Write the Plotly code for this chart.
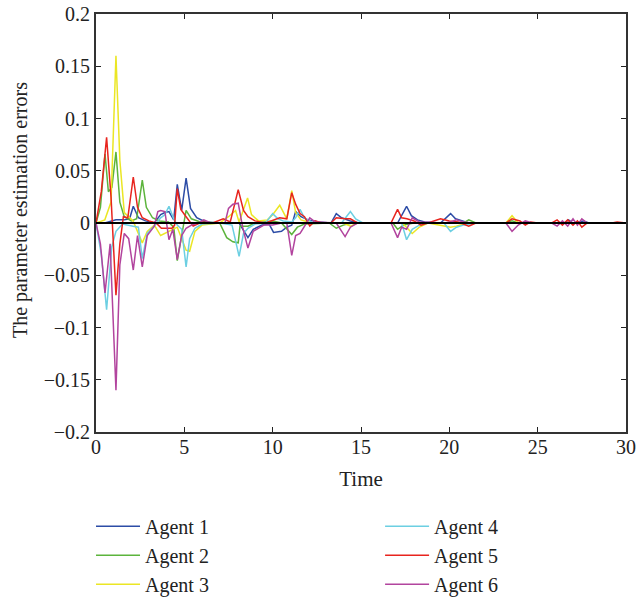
import plotly.graph_objects as go

# ---------------- data ----------------
agent_names = ["Agent 1", "Agent 2", "Agent 3", "Agent 4", "Agent 5", "Agent 6"]

t1 = [0, 0.5, 1.13, 1.6, 1.9, 2.11, 2.4, 2.8, 3.3, 3.66, 3.9, 4.13, 4.4, 4.6, 4.85, 5.1, 5.35, 5.7, 6.2, 7.0,
      8.1, 8.6, 8.9, 9.4, 9.8, 10.05, 10.5, 10.8, 11.08, 11.3, 11.6, 12.0, 12.6, 13.3, 13.6, 13.9, 14.4, 14.9,
      16.5, 17.07, 17.58, 17.85, 18.2, 18.6, 19.5, 20.07, 20.35, 20.7, 21.1, 21.6, 26.5, 26.75, 27.0, 27.6, 27.9, 30]
y1 = [0, 0, 0.003, 0.003, 0.004, 0.016, 0.005, 0.002, 0, 0.008, 0.01, 0.011, 0.003, 0.037, 0.012, 0.043, 0.014,
      0.005, 0.001, 0, 0, -0.014, -0.006, -0.002, -0.001, -0.009, -0.008, -0.004, -0.002, 0.011, 0.006, 0.003,
      0.001, 0, 0.009, 0.005, 0.002, 0, 0, 0, 0.016, 0.007, 0.003, 0.001, 0, 0.009, 0.004, 0.002, 0, 0, 0,
      0.003, 0, 0.002, 0, 0]

t2 = [0, 0.25, 0.51, 0.7, 0.9, 1.13, 1.35, 1.6, 2.0, 2.3, 2.62, 2.85, 3.2, 3.6, 4.1, 4.4, 4.6, 4.85, 5.1, 5.4,
      5.9, 7.0, 7.4, 7.75, 8.05, 8.15, 8.6, 9.0, 10.0, 10.5, 11.08, 11.4, 11.8, 13.2, 13.6, 14.0, 14.5, 16.8,
      17.07, 17.4, 18.0, 20.8, 21.1, 21.5, 23.2, 23.55, 23.9, 30]
y2 = [0, 0.015, 0.066, 0.03, 0.034, 0.068, 0.02, 0.006, 0.002, 0.004, 0.041, 0.015, 0.005, 0.002, 0.001,
      -0.004, -0.036, -0.01, 0.012, 0.004, 0.001, 0, -0.014, -0.018, -0.019, -0.003, -0.003, 0, 0.002, 0,
      -0.011, -0.004, -0.001, 0, -0.005, -0.002, 0, 0, -0.006, -0.002, 0, 0, 0.003, 0, 0, 0.002, 0, 0]

t3 = [0, 0.5, 0.85, 1.13, 1.35, 1.6, 2.1, 2.62, 2.9, 3.3, 3.66, 4.1, 4.6, 5.1, 5.3, 5.6, 6.0, 7.0, 7.5, 7.9,
      8.1, 8.58, 8.8, 9.2, 9.7, 10.0, 10.4, 10.8, 11.08, 11.3, 11.6, 12.2, 14.0, 14.4, 14.8, 17.3, 17.58, 17.9,
      18.3, 18.8, 20.07, 20.4, 20.8, 21.3, 23.2, 23.55, 23.9, 30]
y3 = [0, 0.003, 0.02, 0.160, 0.06, 0.01, 0.002, -0.019, -0.008, -0.002, -0.012, -0.008, -0.004, -0.026,
      -0.027, -0.008, -0.002, 0, 0.006, 0.012, 0.001, 0.024, 0.008, 0.002, 0.003, 0.008, 0.017, 0.004, 0.031,
      0.01, 0.003, 0, 0, -0.003, 0, 0, -0.004, -0.01, -0.004, 0, -0.004, -0.003, -0.001, 0, 0, 0.007, 0, 0]

t4 = [0, 0.3, 0.6, 0.89, 1.13, 1.5, 2.1, 2.4, 2.62, 2.9, 3.3, 3.66, 3.9, 4.13, 4.4, 4.6, 4.85, 5.1, 5.3, 5.6,
      6.0, 7.0, 7.7, 8.1, 8.35, 8.6, 9.0, 9.6, 10.0, 10.3, 10.6, 11.08, 11.3, 11.55, 11.8, 12.3, 13.9, 14.4,
      14.7, 15.1, 17.3, 17.58, 17.9, 18.3, 18.8, 19.7, 20.07, 20.4, 20.8, 21.5, 30]
y4 = [0, -0.03, -0.083, -0.023, -0.008, -0.001, -0.003, -0.004, -0.034, -0.01, -0.003, 0.005, 0.008, 0.016,
      0.004, -0.002, -0.006, -0.042, -0.015, -0.005, -0.001, 0, -0.002, -0.032, -0.01, -0.005, -0.001, 0,
      0.009, 0.004, 0.002, 0.001, 0.005, 0.013, 0.005, 0, 0, 0.011, 0.004, 0, 0, -0.016, -0.006, -0.002, 0, 0,
      -0.008, -0.004, -0.002, 0, 0]

t5 = [0, 0.3, 0.6, 0.85, 1.13, 1.35, 1.55, 1.8, 2.11, 2.35, 2.62, 3.0, 3.4, 3.7, 4.3, 4.45, 4.6, 4.8, 5.1,
      5.5, 6.0, 6.6, 7.2, 7.6, 8.05, 8.35, 8.6, 9.0, 9.6, 10.4, 10.8, 11.08, 11.3, 11.55, 11.8, 12.1, 12.4,
      12.8, 13.3, 13.6, 14.1, 14.4, 14.8, 16.7, 17.07, 17.3, 17.6, 18.0, 18.4, 18.8, 19.5, 20.0, 20.5, 21.1,
      21.5, 23.2, 23.55, 24.0, 24.3, 24.6, 25.0, 25.8, 26.1, 26.4, 26.7, 27.0, 27.25, 27.5, 27.8, 29.2, 29.5, 30]
y5 = [0, 0.03, 0.082, 0.025, -0.069, -0.02, 0.006, 0.005, 0.044, 0.015, 0.005, 0.002, 0, -0.005, -0.005,
      -0.002, 0.033, 0.013, 0.006, -0.003, 0.001, 0, 0.004, 0.001, 0.032, 0.012, 0.006, 0.002, 0, 0.005,
      0.004, 0.029, 0.018, 0.009, 0.006, -0.003, 0.002, 0, 0, 0.005, 0.004, 0.004, 0, 0, 0.013, 0.005, 0.004,
      0.002, -0.002, 0, 0.004, 0.002, 0.001, -0.003, 0, 0, 0.004, 0.002, -0.002, 0.001, 0, 0, 0.003, -0.002,
      0.003, -0.002, 0.002, -0.004, 0, 0, 0.001, 0]

t6 = [0, 0.25, 0.51, 0.8, 1.13, 1.35, 1.6, 1.85, 2.11, 2.35, 2.62, 2.9, 3.3, 3.5, 3.66, 3.9, 4.13, 4.35, 4.6,
      4.85, 5.1, 5.4, 5.8, 6.1, 6.5, 7.3, 7.5, 7.75, 8.05, 8.3, 8.6, 8.9, 9.5, 10.0, 10.5, 10.8, 11.08, 11.3,
      11.55, 11.8, 12.1, 12.4, 13.3, 13.6, 14.1, 14.4, 14.8, 16.7, 17.07, 17.3, 17.58, 17.9, 18.3, 19.7, 20.07,
      20.4, 20.8, 21.3, 23.2, 23.55, 23.9, 24.3, 24.7, 25.8, 26.1, 26.4, 26.7, 27.0, 27.25, 27.5, 27.8, 30]
y6 = [0, -0.02, -0.067, -0.02, -0.160, -0.04, -0.01, -0.015, -0.045, -0.012, -0.042, -0.012, -0.003, 0.011,
      0.012, 0.011, -0.016, -0.006, -0.035, -0.012, -0.005, -0.002, 0, 0.003, 0, 0, 0.014, 0.018, 0.019,
      -0.004, -0.024, -0.008, -0.002, -0.002, 0, 0, -0.031, -0.012, -0.01, -0.003, 0.005, 0.001, 0, 0, -0.013,
      -0.004, 0, 0, -0.014, -0.004, -0.006, 0.005, 0.001, 0, 0.001, 0.003, 0.001, 0, 0, -0.008, -0.002, 0.002,
      0, 0, -0.003, 0.002, -0.003, 0.004, -0.002, 0.004, 0, 0]

x_ticks = [0, 5, 10, 15, 20, 25, 30]
y_ticks = [-0.2, -0.15, -0.1, -0.05, 0, 0.05, 0.1, 0.15, 0.2]
y_ticktext = ["\u22120.2", "\u22120.15", "\u22120.1", "\u22120.05", "0", "0.05", "0.1", "0.15", "0.2"]
x_title = "Time"
y_title = "The parameter estimation errors"

# ---------------- styling ----------------
colors = ["#2c4ca6", "#5cb43c", "#ebe624", "#6ccfe2", "#e8241e", "#b2449e"]
FONT = "Liberation Serif"
TXT = "#222222"

series_t = [t1, t2, t3, t4, t5, t6]
series_y = [y1, y2, y3, y4, y5, y6]

fig = go.Figure()
for i, (name, tt, yy, c) in enumerate(zip(agent_names, series_t, series_y, colors)):
    fig.add_trace(go.Scatter(
        x=tt, y=yy, mode="lines", name=name,
        line=dict(color=c, width=1.5),
        legend="legend" if i < 3 else "legend2",
        legendgroup=f"g{i}",
    ))

fig.add_shape(type="line", xref="x", yref="y", x0=0, x1=30, y0=0, y1=0,
              line=dict(color="black", width=2), layer="above")

fig.add_annotation(text=y_title, textangle=-90, xref="paper", yref="paper",
                   x=-0.1434, y=0.531, xanchor="center", yanchor="middle", showarrow=False,
                   font=dict(family=FONT, size=20, color=TXT))

fig.update_xaxes(
    range=[0, 30], tickvals=x_ticks, ticks="inside", ticklen=5, tickwidth=1.2, tickcolor=TXT,
    showline=True, mirror="ticks", linecolor="#333", linewidth=2,
    showgrid=False, zeroline=False, automargin=False, ticklabeloverflow="allow",
    ticklabelstandoff=-4,
    tickfont=dict(family=FONT, size=20, color=TXT),
    title=dict(text=x_title, font=dict(family=FONT, size=21, color=TXT), standoff=14),
)
fig.update_yaxes(
    range=[-0.2, 0.2], tickvals=y_ticks, ticktext=y_ticktext, ticks="inside", ticklen=5, tickwidth=1.2,
    tickcolor=TXT, showline=True, mirror="ticks", linecolor="#333", linewidth=2,
    showgrid=False, zeroline=False, automargin=False, ticklabeloverflow="allow",
    tickfont=dict(family=FONT, size=20, color=TXT),
)

legend_common = dict(yanchor="top", y=-0.179, xanchor="left", orientation="v",
                     font=dict(family=FONT, size=20, color=TXT), tracegroupgap=0,
                     bgcolor="rgba(0,0,0,0)", itemwidth=44)
fig.update_layout(
    width=636, height=601,
    margin=dict(l=96, r=10, t=14, b=169, autoexpand=False),
    plot_bgcolor="white", paper_bgcolor="white",
    font=dict(family=FONT, size=20, color=TXT),
    showlegend=True,
    legend=dict(x=-0.0094, **legend_common),
    legend2=dict(x=0.536, **legend_common),
)

# remove the browser's default 8 px body margin so the figure fills the window exactly
fig.write_html("out.html", config={"displayModeBar": False},
               post_script="document.body.style.margin='0';")
